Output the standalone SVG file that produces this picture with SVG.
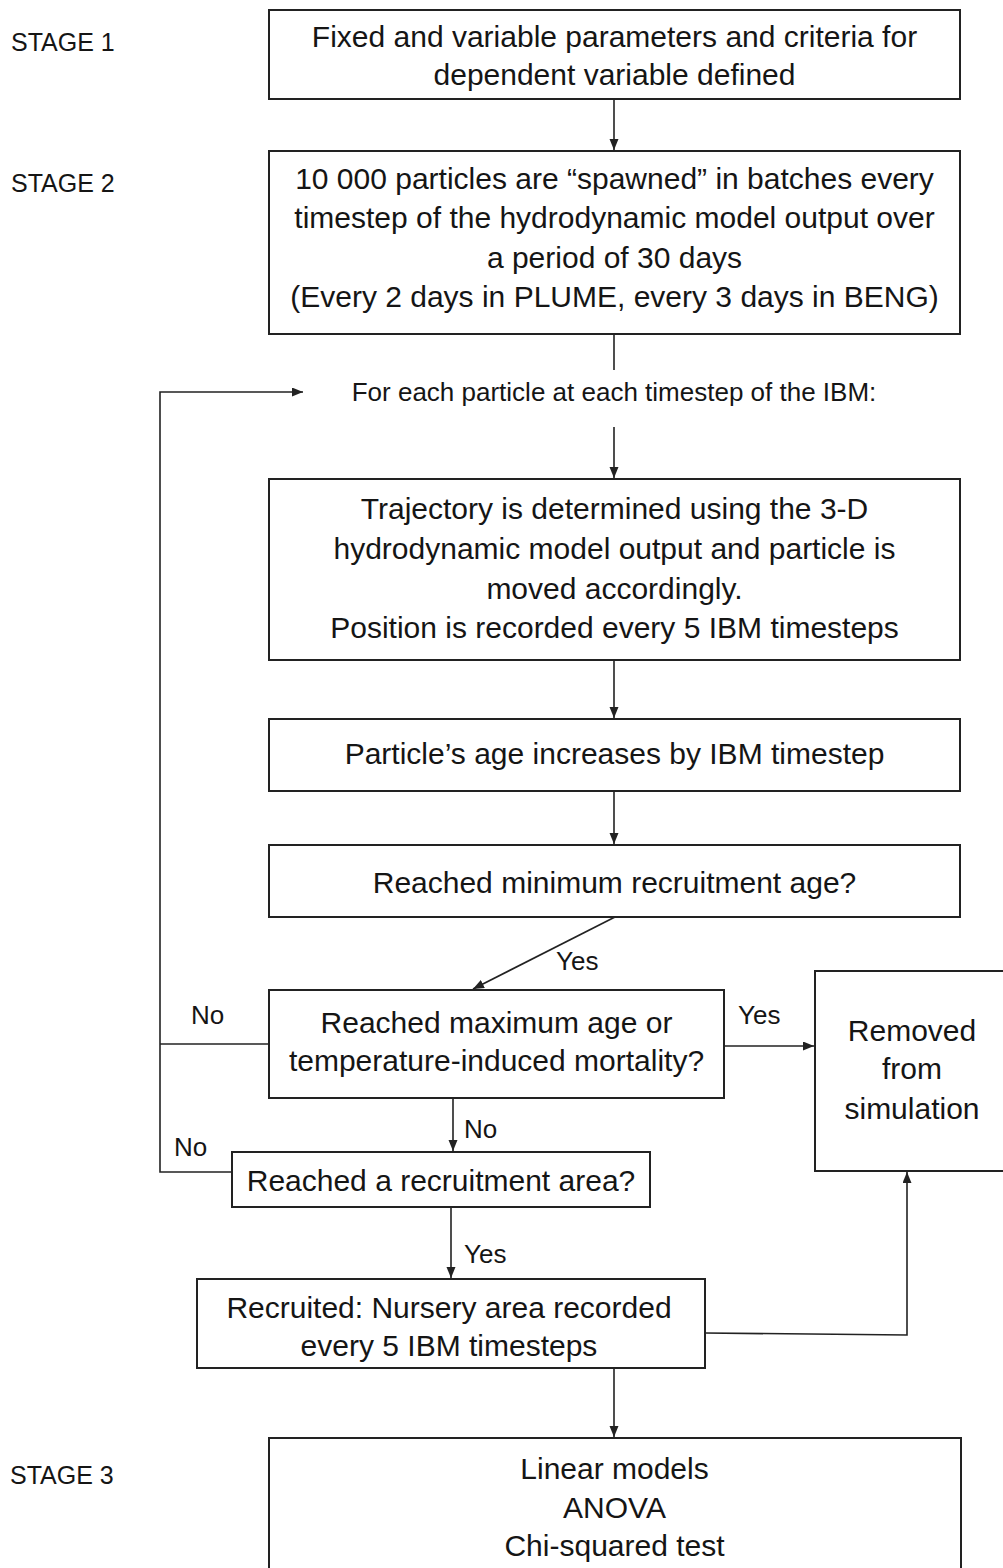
<svg xmlns="http://www.w3.org/2000/svg" width="1003" height="1568" viewBox="0 0 1003 1568">
<style>
text{font-family:"Liberation Sans",Arial,sans-serif;fill:#151515}
.t{font-size:30px;text-anchor:middle}
.s{font-size:25px}
.l{font-size:26px}
.box{fill:#fff;stroke:#222;stroke-width:2}
.c{fill:none;stroke:#222;stroke-width:1.6}
</style>
<defs>
<marker id="ah" markerUnits="userSpaceOnUse" markerWidth="12" markerHeight="10" refX="11" refY="4.5" orient="auto">
<path d="M0,0 L11,4.5 L0,9 z" fill="#222"/>
</marker>
</defs>
<rect width="1003" height="1568" fill="#fff"/>

<g id="stages">
<text class="s" x="11" y="51">STAGE 1</text>
<text class="s" x="11" y="192">STAGE 2</text>
<text class="s" x="10" y="1484">STAGE 3</text>
</g>

<g id="connectors">
<line class="c" x1="614" y1="99" x2="614" y2="150" marker-end="url(#ah)"/>
<line class="c" x1="614" y1="334" x2="614" y2="370"/>
<line class="c" x1="614" y1="427" x2="614" y2="478" marker-end="url(#ah)"/>
<line class="c" x1="614" y1="660" x2="614" y2="718" marker-end="url(#ah)"/>
<line class="c" x1="614" y1="791" x2="614" y2="844" marker-end="url(#ah)"/>
<line class="c" x1="615" y1="917" x2="473" y2="989" marker-end="url(#ah)"/>
<line class="c" x1="724" y1="1046" x2="814" y2="1046" marker-end="url(#ah)"/>
<line class="c" x1="269" y1="1044" x2="160" y2="1044"/>
<polyline class="c" points="232,1172 160,1172 160,392 303,392" marker-end="url(#ah)"/>
<line class="c" x1="453" y1="1098" x2="453" y2="1151" marker-end="url(#ah)"/>
<line class="c" x1="451" y1="1207" x2="451" y2="1278" marker-end="url(#ah)"/>
<polyline class="c" points="705,1333 907,1335 907,1172" marker-end="url(#ah)"/>
<line class="c" x1="614" y1="1368" x2="614" y2="1437" marker-end="url(#ah)"/>
<text class="l" x="556" y="970">Yes</text>
<text class="l" x="738" y="1024">Yes</text>
<text class="l" x="191" y="1024">No</text>
<text class="l" x="464" y="1138">No</text>
<text class="l" x="174" y="1156">No</text>
<text class="l" x="464" y="1263">Yes</text>
</g>

<g id="n1">
<rect class="box" x="269" y="10" width="691" height="89"/>
<text class="t" x="614.5" y="47">Fixed and variable parameters and criteria for</text>
<text class="t" x="614.5" y="85">dependent variable defined</text>
</g>

<g id="n2">
<rect class="box" x="269" y="151" width="691" height="183"/>
<text class="t" x="614.5" y="189">10 000 particles are “spawned” in batches every</text>
<text class="t" x="614.5" y="228">timestep of the hydrodynamic model output over</text>
<text class="t" x="614.5" y="268">a period of 30 days</text>
<text class="t" x="614.5" y="307">(Every 2 days in PLUME, every 3 days in BENG)</text>
</g>

<g id="n_loop">
<text x="614" y="401" style="font-size:26px;text-anchor:middle">For each particle at each timestep of the IBM:</text>
</g>

<g id="n3">
<rect class="box" x="269" y="479" width="691" height="181"/>
<text class="t" x="614.5" y="519">Trajectory is determined using the 3-D</text>
<text class="t" x="614.5" y="559">hydrodynamic model output and particle is</text>
<text class="t" x="614.5" y="599">moved accordingly.</text>
<text class="t" x="614.5" y="638">Position is recorded every 5 IBM timesteps</text>
</g>

<g id="n4">
<rect class="box" x="269" y="719" width="691" height="72"/>
<text class="t" x="614.5" y="764">Particle’s age increases by IBM timestep</text>
</g>

<g id="n5">
<rect class="box" x="269" y="845" width="691" height="72"/>
<text class="t" x="614.5" y="893">Reached minimum recruitment age?</text>
</g>

<g id="n6">
<rect class="box" x="269" y="990" width="455" height="108"/>
<text class="t" x="496.5" y="1033">Reached maximum age or</text>
<text class="t" x="496.5" y="1071">temperature-induced mortality?</text>
</g>

<g id="n_removed">
<rect class="box" x="815" y="971" width="200" height="200"/>
<text class="t" x="912" y="1041">Removed</text>
<text class="t" x="912" y="1079">from</text>
<text class="t" x="912" y="1119">simulation</text>
</g>

<g id="n7">
<rect class="box" x="232" y="1152" width="418" height="55"/>
<text class="t" x="441" y="1191">Reached a recruitment area?</text>
</g>

<g id="n8">
<rect class="box" x="197" y="1279" width="508" height="89"/>
<text class="t" x="449" y="1318">Recruited: Nursery area recorded</text>
<text class="t" x="449" y="1356">every 5 IBM timesteps</text>
</g>

<g id="n9">
<rect class="box" x="269" y="1438" width="692" height="150"/>
<text class="t" x="614.5" y="1479">Linear models</text>
<text class="t" x="614.5" y="1518">ANOVA</text>
<text class="t" x="614.5" y="1556">Chi-squared test</text>
</g>
</svg>
